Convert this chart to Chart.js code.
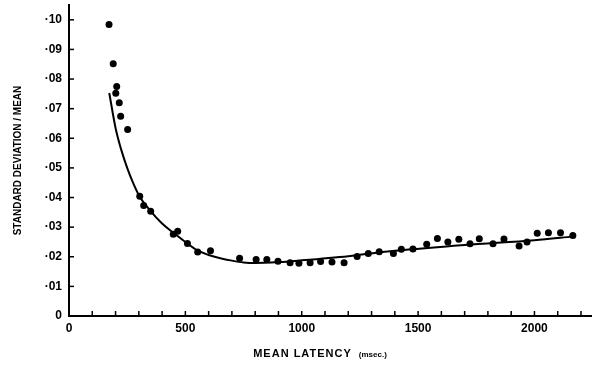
<!DOCTYPE html>
<html>
<head>
<meta charset="utf-8">
<script src="https://cdn.jsdelivr.net/npm/chart.js@4"></script>
<style>
	body { margin: 0; background: #fff; }
	#wrap { width: 595px; height: 366px; }
</style>
</head>
<body>
<div id="wrap"><canvas id="latencyChart"></canvas></div>
<script>
// observed points
const latency = [172, 190, 201, 205, 216, 222, 252, 304, 321, 351, 448, 467, 509, 553, 608,
	733, 804, 850, 898, 950, 988, 1036, 1081, 1130, 1182, 1238, 1286, 1333, 1394, 1428,
	1478, 1537, 1583, 1628, 1675, 1723, 1763, 1822, 1869, 1934, 1968, 2012, 2060, 2112, 2165];
const ratio = [0.0984, 0.0852, 0.0752, 0.0775, 0.0720, 0.0674, 0.0630, 0.0404, 0.0373, 0.0354,
	0.0276, 0.0286, 0.0245, 0.0216, 0.0220, 0.0195, 0.0191, 0.0191, 0.0185, 0.0180,
	0.0178, 0.0180, 0.0184, 0.0182, 0.0180, 0.0201, 0.0211, 0.0217, 0.0211, 0.0225,
	0.0226, 0.0242, 0.0262, 0.0250, 0.0259, 0.0244, 0.0261, 0.0244, 0.0260, 0.0236,
	0.0250, 0.0279, 0.0281, 0.0281, 0.0272];

// fitted curve
const curveX = [173, 200, 225, 250, 275, 300, 350, 400, 450, 500, 550, 600, 650, 700, 750,
	800, 900, 1000, 1200, 1400, 1700, 2000, 2165];
const curveY = [0.0753, 0.0635, 0.0560, 0.0500, 0.0450, 0.0408, 0.0355, 0.0312, 0.0280, 0.0250,
	0.0222, 0.0206, 0.0195, 0.0187, 0.0181, 0.0179, 0.0182, 0.0188, 0.0202, 0.0220,
	0.0240, 0.0256, 0.0268];

const xLabelsAt = [0, 500, 1000, 1500, 2000];

const tickFont = { family: 'Liberation Sans', size: 12, weight: 'bold' };

// tick marks point into the plot, and the x title has a smaller unit part
const paperAxes = {
	id: 'paperAxes',
	afterDraw(chart) {
		const { ctx, chartArea, scales: { x, y } } = chart;
		ctx.save();
		ctx.strokeStyle = '#000';
		ctx.lineWidth = 1.5;
		x.ticks.forEach((t, i) => {
			const px = x.getPixelForTick(i);
			ctx.beginPath();
			ctx.moveTo(px, chartArea.bottom);
			ctx.lineTo(px, chartArea.bottom - 5);
			ctx.stroke();
		});
		y.ticks.forEach((t, i) => {
			const py = y.getPixelForTick(i);
			ctx.beginPath();
			ctx.moveTo(chartArea.left, py);
			ctx.lineTo(chartArea.left + 5, py);
			ctx.stroke();
		});

		ctx.fillStyle = '#000';
		ctx.textBaseline = 'alphabetic';
		const main = 'MEAN LATENCY';
		const unit = '(msec.)';
		ctx.font = 'bold 11px "Liberation Sans"';
		ctx.letterSpacing = '1px';
		const w1 = ctx.measureText(main).width;
		ctx.font = 'bold 8px "Liberation Sans"';
		ctx.letterSpacing = '0px';
		const w2 = ctx.measureText(unit).width;
		const gap = 7;
		let sx = 320 - (w1 + gap + w2) / 2;
		ctx.font = 'bold 11px "Liberation Sans"';
		ctx.letterSpacing = '1px';
		ctx.fillText(main, sx, 357);
		ctx.font = 'bold 8px "Liberation Sans"';
		ctx.letterSpacing = '0px';
		ctx.fillText(unit, sx + w1 + gap, 357);
		ctx.restore();
	}
};

new Chart(document.getElementById('latencyChart'), {
	type: 'scatter',
	data: {
		datasets: [{
			type: 'line',
			data: curveX.map((v, i) => ({ x: v, y: curveY[i] })),
			borderColor: '#000',
			borderWidth: 2,
			pointRadius: 0,
			cubicInterpolationMode: 'monotone',
			fill: false
		}, {
			data: latency.map((v, i) => ({ x: v, y: ratio[i] })),
			backgroundColor: '#000',
			borderColor: '#000',
			pointRadius: 3.5,
			borderWidth: 0
		}]
	},
	options: {
		responsive: true,
		maintainAspectRatio: false,
		animation: false,
		layout: { padding: { top: 5, right: 0, left: 0, bottom: 0 } },
		plugins: {
			legend: { display: false },
			tooltip: { enabled: false }
		},
		scales: {
			x: {
				type: 'linear',
				min: 0,
				max: 2243,
				afterFit: s => { s.height = 50; s.paddingLeft = 0; s.paddingRight = 0; },
				grid: { display: false, drawTicks: false },
				border: { display: true, color: '#000', width: 2 },
				ticks: {
					stepSize: 100,
					includeBounds: false,
					autoSkip: false,
					maxRotation: 0,
					padding: 5,
					color: '#000',
					font: tickFont,
					callback: v => xLabelsAt.includes(v) ? String(v) : ''
				}
			},
			y: {
				min: 0,
				max: 0.105,
				afterFit: s => { s.width = 69; s.paddingTop = 0; s.paddingBottom = 0; },
				grid: { display: false, drawTicks: false },
				border: { display: true, color: '#000', width: 2 },
				ticks: {
					stepSize: 0.01,
					includeBounds: false,
					padding: 7,
					color: '#000',
					font: tickFont,
					callback: v => {
						const n = Math.round(v * 100);
						return n === 0 ? '0' : '·' + String(n).padStart(2, '0');
					}
				},
				title: {
					display: true,
					text: 'STANDARD DEVIATION / MEAN',
					color: '#000',
					font: { family: 'Liberation Sans', size: 10, weight: 'bold' },
					padding: { top: 12, bottom: 0 }
				}
			}
		}
	},
	plugins: [paperAxes]
});
</script>
</body>
</html>
